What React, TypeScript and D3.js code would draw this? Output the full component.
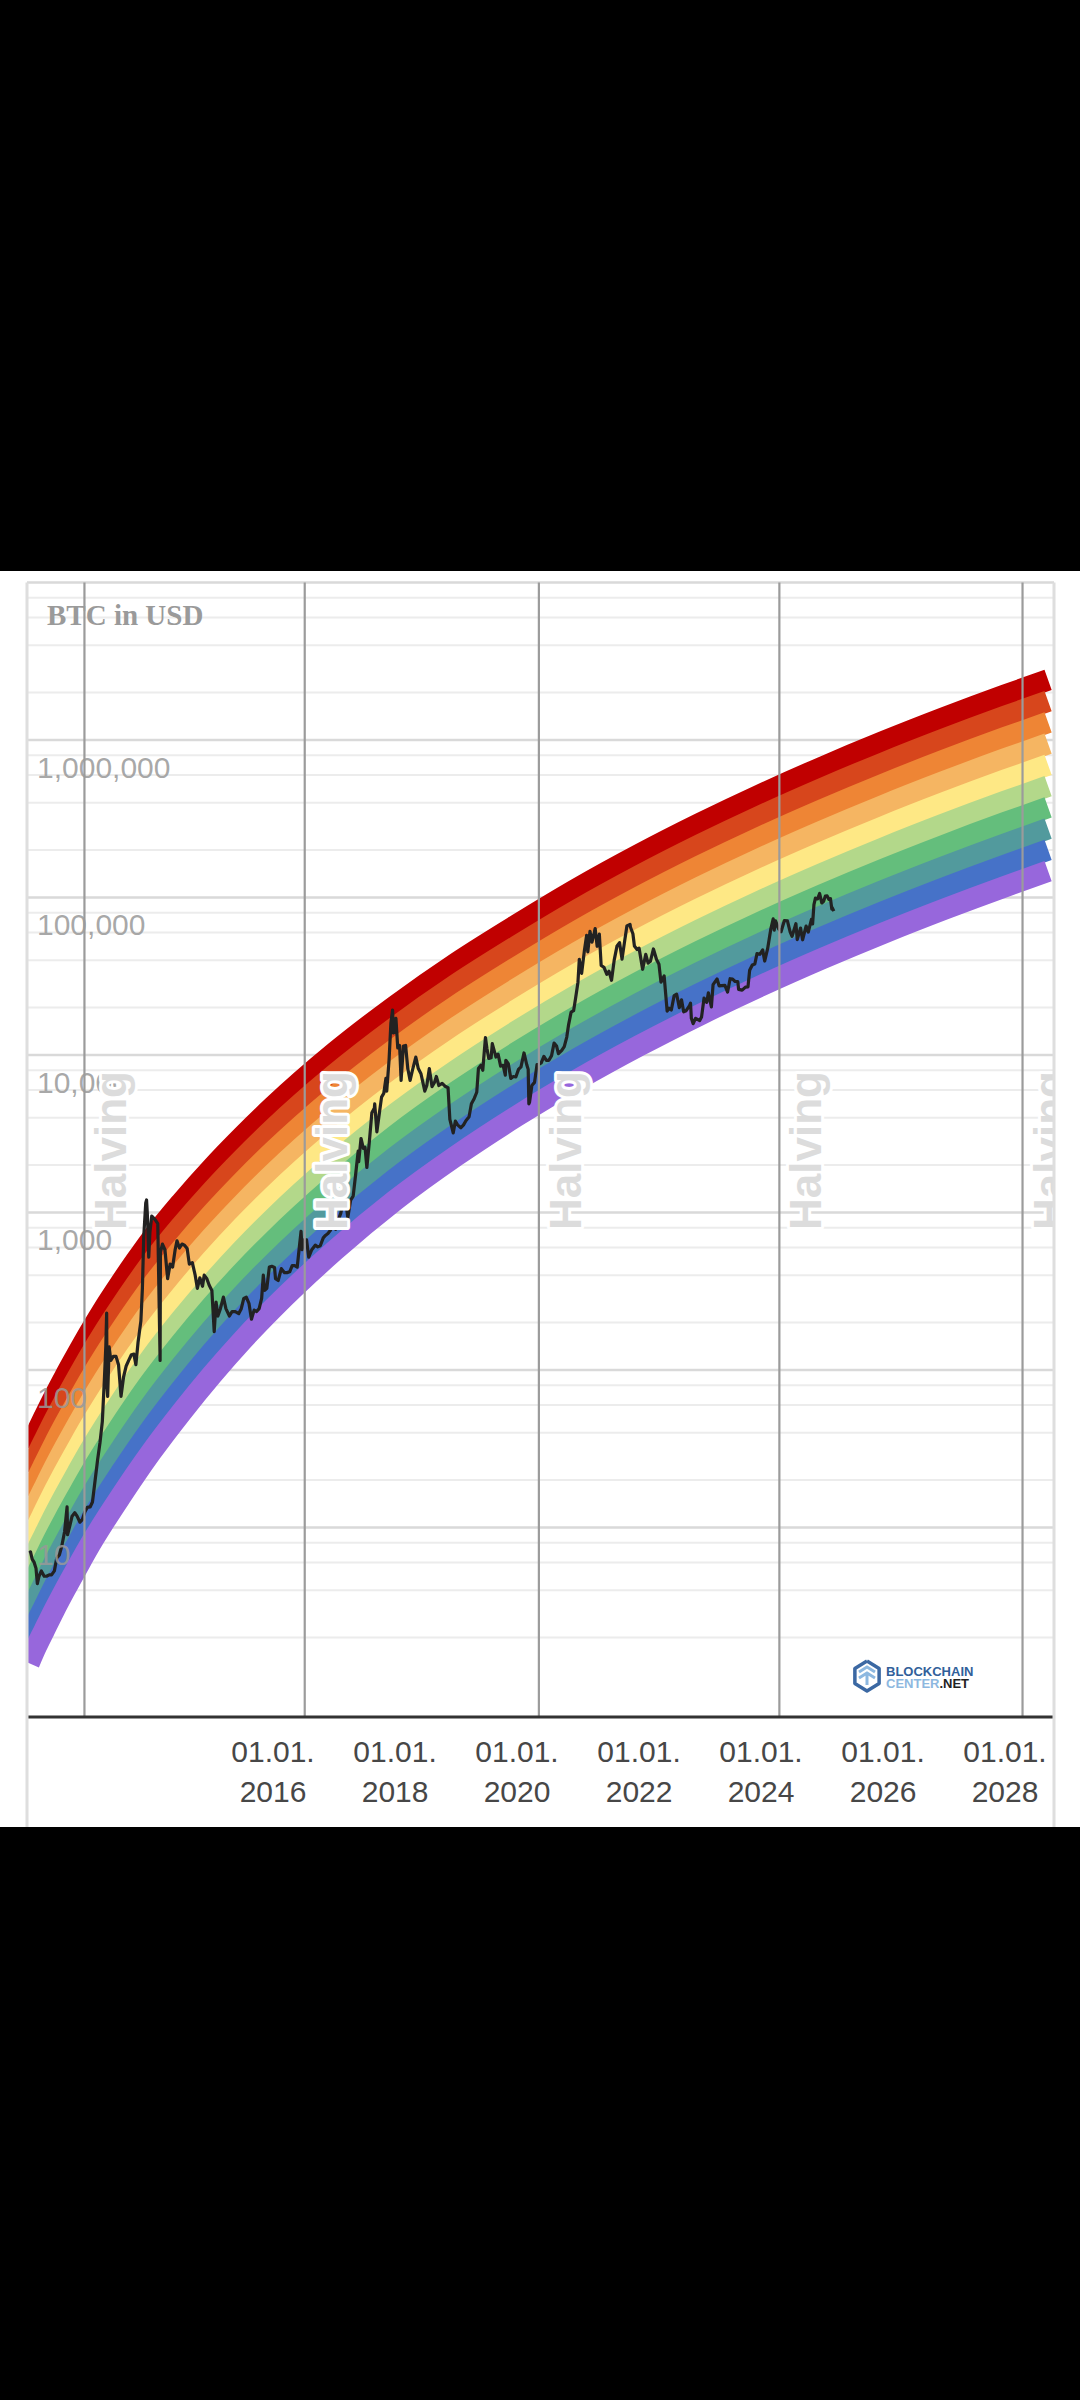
import { useEffect, useRef } from "react";
import * as d3 from "d3";

const WIDTH = 1080;
const HEIGHT = 2400;

// centre lines of the lowest (purple) and highest (dark red) rainbow bands
const rainbowDates = [
  "2012-01-01", "2012-02-15", "2012-04-01", "2012-06-01", "2012-08-01", "2012-10-15",
  "2013-01-01", "2013-04-01", "2013-07-01", "2013-10-01", "2014-01-01", "2014-07-01",
  "2015-01-01", "2015-07-01", "2016-01-01", "2017-01-01", "2018-01-01", "2019-01-01",
  "2020-01-01", "2021-01-01", "2022-01-01", "2023-01-01", "2024-01-01", "2025-01-01",
  "2026-01-01", "2027-01-01", "2028-01-01", "2028-09-15",
];
const rainbowBase = [
  1.375, 1.765, 2.22, 3.0, 3.98, 5.55,
  7.78, 11.1, 15.6, 21.8, 30.0, 53.7,
  93.2, 154, 246, 569, 1195, 2283,
  4097, 7000, 11430, 18010, 27510, 40910,
  59340, 84250, 117400, 146800,
];
const rainbowTop = [
  31.6, 40.0, 50.4, 68.0, 90.2, 125.6,
  175.4, 252.3, 354.5, 492, 673, 1160,
  1925, 3045, 4715, 10315, 20525, 38316,
  67215, 114842, 187521, 295472, 451329, 671170,
  973532, 1382206, 1926064, 2408401,
];
// purple -> dark red
const bandColors = [
  "#9767dc", "#4672c8", "#529a9d", "#64be7c", "#b3d88a",
  "#fee885", "#f5b562", "#ee8535", "#d7461c", "#c00000",
];

const halvingDates = ["2012-11-28", "2016-07-09", "2020-05-11", "2024-04-20", "2028-04-15"];
const xTickYears = [2016, 2018, 2020, 2022, 2024, 2026, 2028];
const yLabelValues = [10, 100, 1000, 10000, 100000, 1000000];
const majorGrid = [10, 100, 1000, 10000, 100000, 1000000, 10000000];
const minorGrid = [
  2, 4, 6, 8, 20, 40, 60, 80, 200, 400, 600, 800, 2000, 4000, 6000, 8000,
  20000, 40000, 60000, 80000, 200000, 400000, 600000, 800000,
  2000000, 4000000, 6000000, 8000000,
];

const btcPrice: [string, number][] = [
  ["2012-01-01", 6.9], ["2012-01-10", 7.0], ["2012-01-20", 6.3], ["2012-02-01", 6.0],
  ["2012-02-12", 5.5], ["2012-02-20", 4.4], ["2012-03-01", 4.9], ["2012-03-15", 5.3],
  ["2012-04-01", 4.9], ["2012-04-15", 4.9], ["2012-05-01", 5.0], ["2012-05-15", 5.0],
  ["2012-06-01", 5.3], ["2012-06-15", 6.4], ["2012-07-01", 6.7], ["2012-07-15", 7.6],
  ["2012-08-01", 9.4], ["2012-08-16", 13.5], ["2012-08-19", 9.0], ["2012-09-01", 10.2],
  ["2012-09-15", 11.8], ["2012-10-01", 12.4], ["2012-10-15", 11.8], ["2012-11-01", 10.8],
  ["2012-11-15", 11.2], ["2012-12-01", 12.6], ["2012-12-15", 13.4],
  ["2013-01-01", 13.5], ["2013-01-15", 14.5], ["2013-02-01", 20.4], ["2013-02-15", 27],
  ["2013-03-01", 34.5], ["2013-03-15", 47], ["2013-03-28", 90], ["2013-04-05", 142],
  ["2013-04-10", 230], ["2013-04-12", 80], ["2013-04-16", 68], ["2013-04-25", 140],
  ["2013-05-05", 115], ["2013-05-20", 122], ["2013-06-05", 122], ["2013-06-20", 108],
  ["2013-07-05", 68], ["2013-07-20", 90], ["2013-08-05", 106], ["2013-08-20", 115],
  ["2013-09-05", 125], ["2013-09-20", 126], ["2013-10-02", 108], ["2013-10-15", 150],
  ["2013-11-01", 205], ["2013-11-10", 330], ["2013-11-18", 700], ["2013-11-30", 1150],
  ["2013-12-05", 1200], ["2013-12-10", 960], ["2013-12-18", 520], ["2013-12-25", 750],
  ["2014-01-05", 950], ["2014-01-25", 900], ["2014-02-10", 850], ["2014-02-24", 115],
  ["2014-02-26", 560], ["2014-03-10", 630], ["2014-03-25", 580], ["2014-04-10", 380],
  ["2014-04-25", 470], ["2014-05-10", 450], ["2014-05-25", 580], ["2014-06-05", 660],
  ["2014-06-20", 595], ["2014-07-05", 630], ["2014-07-20", 620], ["2014-08-05", 590],
  ["2014-08-18", 470], ["2014-09-05", 480], ["2014-09-22", 400], ["2014-10-05", 330],
  ["2014-10-20", 385], ["2014-11-05", 340], ["2014-11-15", 400], ["2014-12-01", 380],
  ["2014-12-15", 345], ["2014-12-31", 320],
  ["2015-01-14", 175], ["2015-01-25", 270], ["2015-02-05", 220], ["2015-02-20", 245],
  ["2015-03-10", 290], ["2015-03-25", 245], ["2015-04-15", 220], ["2015-05-01", 235],
  ["2015-05-20", 235], ["2015-06-10", 228], ["2015-06-25", 245], ["2015-07-10", 285],
  ["2015-07-25", 290], ["2015-08-10", 265], ["2015-08-25", 210], ["2015-09-10", 240],
  ["2015-09-25", 235], ["2015-10-10", 245], ["2015-10-25", 285], ["2015-11-04", 400],
  ["2015-11-12", 320], ["2015-11-25", 330], ["2015-12-10", 450], ["2015-12-25", 455],
  ["2016-01-10", 448], ["2016-01-16", 380], ["2016-02-01", 370], ["2016-02-20", 440],
  ["2016-03-10", 415], ["2016-03-25", 415], ["2016-04-10", 420], ["2016-04-25", 460],
  ["2016-05-10", 460], ["2016-05-25", 450], ["2016-06-05", 580], ["2016-06-17", 760],
  ["2016-06-23", 580], ["2016-07-05", 670], ["2016-07-20", 670], ["2016-08-02", 520],
  ["2016-08-20", 580], ["2016-09-10", 620], ["2016-09-25", 605], ["2016-10-10", 615],
  ["2016-10-28", 690], ["2016-11-10", 715], ["2016-11-25", 735], ["2016-12-10", 770],
  ["2016-12-25", 890],
  ["2017-01-04", 1150], ["2017-01-11", 780], ["2017-01-25", 890], ["2017-02-10", 990],
  ["2017-02-25", 1180], ["2017-03-10", 1200], ["2017-03-24", 930], ["2017-04-10", 1200],
  ["2017-04-25", 1270], ["2017-05-10", 1750], ["2017-05-25", 2450], ["2017-05-28", 2100],
  ["2017-06-11", 2950], ["2017-06-25", 2550], ["2017-07-05", 2600], ["2017-07-16", 1930],
  ["2017-07-30", 2750], ["2017-08-15", 4300], ["2017-08-30", 4600], ["2017-09-01", 4900],
  ["2017-09-14", 3250], ["2017-09-28", 4200], ["2017-10-12", 5400], ["2017-10-25", 5700],
  ["2017-11-07", 7100], ["2017-11-12", 5900], ["2017-11-26", 9300], ["2017-12-07", 16000],
  ["2017-12-17", 19300], ["2017-12-22", 13800], ["2017-12-31", 14000],
  ["2018-01-06", 17100], ["2018-01-17", 11100], ["2018-01-28", 11500], ["2018-02-06", 6900],
  ["2018-02-20", 11400], ["2018-03-05", 11500], ["2018-03-18", 8200], ["2018-04-01", 6900],
  ["2018-04-15", 8000], ["2018-05-05", 9700], ["2018-05-20", 8200], ["2018-06-05", 7600],
  ["2018-06-28", 5900], ["2018-07-10", 6400], ["2018-07-25", 8200], ["2018-08-10", 6300],
  ["2018-08-25", 6700], ["2018-09-05", 7300], ["2018-09-20", 6400], ["2018-10-10", 6600],
  ["2018-10-30", 6300], ["2018-11-14", 6200], ["2018-11-25", 3900], ["2018-12-15", 3200],
  ["2018-12-28", 3800],
  ["2019-01-10", 3600], ["2019-01-30", 3450], ["2019-02-15", 3600], ["2019-03-01", 3820],
  ["2019-03-20", 4050], ["2019-04-03", 4900], ["2019-04-20", 5300], ["2019-05-05", 5800],
  ["2019-05-15", 8200], ["2019-05-30", 8600], ["2019-06-10", 8000], ["2019-06-26", 12900],
  ["2019-07-05", 11000], ["2019-07-16", 9500], ["2019-07-30", 9600], ["2019-08-06", 11800],
  ["2019-08-28", 9700], ["2019-09-10", 10100], ["2019-09-25", 8500], ["2019-10-10", 8600],
  ["2019-10-23", 7450], ["2019-10-26", 9250], ["2019-11-10", 8800], ["2019-11-25", 7100],
  ["2019-12-10", 7300], ["2019-12-25", 7250],
  ["2020-01-10", 8100], ["2020-01-25", 8400], ["2020-02-12", 10300], ["2020-02-28", 8700],
  ["2020-03-08", 8100], ["2020-03-12", 4900], ["2020-03-16", 5000], ["2020-03-30", 6400],
  ["2020-04-15", 6700], ["2020-04-30", 8700], ["2020-05-10", 8700], ["2020-05-25", 8900],
  ["2020-06-10", 9800], ["2020-06-25", 9250], ["2020-07-10", 9250], ["2020-07-26", 9900],
  ["2020-08-10", 11900], ["2020-08-25", 11400], ["2020-09-05", 10200], ["2020-09-25", 10700],
  ["2020-10-10", 11300], ["2020-10-25", 13000], ["2020-11-05", 15600], ["2020-11-20", 18700],
  ["2020-12-05", 19100], ["2020-12-17", 23000], ["2020-12-31", 29000],
  ["2021-01-08", 40500], ["2021-01-22", 33000], ["2021-02-08", 46500], ["2021-02-21", 57500],
  ["2021-02-28", 45200], ["2021-03-13", 61000], ["2021-03-25", 52000], ["2021-04-13", 63500],
  ["2021-04-25", 49000], ["2021-05-08", 58500], ["2021-05-19", 37000], ["2021-06-05", 36000],
  ["2021-06-22", 32500], ["2021-07-05", 34000], ["2021-07-20", 29800], ["2021-08-05", 40000],
  ["2021-08-22", 49300], ["2021-09-06", 51700], ["2021-09-21", 40600], ["2021-10-05", 51500],
  ["2021-10-20", 66000], ["2021-11-08", 67500], ["2021-11-10", 64900], ["2021-11-25", 58900],
  ["2021-12-04", 49200], ["2021-12-20", 46700],
  ["2022-01-01", 47700], ["2022-01-22", 35000], ["2022-02-10", 43500], ["2022-02-24", 38300],
  ["2022-03-10", 39400], ["2022-03-28", 47100], ["2022-04-15", 40500], ["2022-04-30", 37700],
  ["2022-05-12", 29000], ["2022-05-31", 31800], ["2022-06-18", 19000], ["2022-06-30", 19800],
  ["2022-07-13", 19300], ["2022-07-30", 23800], ["2022-08-14", 24300], ["2022-08-30", 20000],
  ["2022-09-12", 22400], ["2022-09-25", 18800], ["2022-10-10", 19100], ["2022-10-30", 20600],
  ["2022-11-05", 21300], ["2022-11-10", 17100], ["2022-11-21", 15800], ["2022-12-05", 17100],
  ["2022-12-30", 16550],
  ["2023-01-10", 17400], ["2023-01-25", 23000], ["2023-02-10", 21600], ["2023-02-20", 24800],
  ["2023-03-10", 20200], ["2023-03-20", 28000], ["2023-04-13", 30400], ["2023-04-25", 27500],
  ["2023-05-10", 27600], ["2023-05-30", 27700], ["2023-06-15", 25100], ["2023-06-30", 30500],
  ["2023-07-15", 30300], ["2023-07-30", 29300], ["2023-08-15", 29200], ["2023-08-20", 26100],
  ["2023-09-10", 25800], ["2023-09-30", 27000], ["2023-10-15", 27100], ["2023-10-25", 34500],
  ["2023-11-10", 37300], ["2023-11-25", 37800], ["2023-12-08", 44000], ["2023-12-25", 43600],
  ["2024-01-11", 46500], ["2024-01-23", 39500], ["2024-02-10", 47500], ["2024-02-28", 62500],
  ["2024-03-14", 73100], ["2024-03-20", 62000], ["2024-03-28", 71000], ["2024-04-15", 63400],
  ["2024-04-30", 60600], ["2024-05-20", 71400], ["2024-06-07", 71000], ["2024-06-24", 60300],
  ["2024-07-05", 56700], ["2024-07-28", 68200], ["2024-08-05", 54000], ["2024-08-25", 64000],
  ["2024-09-06", 53900], ["2024-09-27", 65800], ["2024-10-10", 60300], ["2024-10-29", 72700],
  ["2024-11-05", 68000], ["2024-11-13", 90000], ["2024-11-22", 99000], ["2024-12-05", 98000],
  ["2024-12-17", 106000], ["2024-12-30", 92300],
  ["2025-01-10", 94500], ["2025-01-20", 102000], ["2025-01-31", 102400], ["2025-02-10", 97400],
  ["2025-02-20", 98300], ["2025-02-28", 84300], ["2025-03-03", 86000], ["2025-03-12", 82000],
];

const SANS = "'Liberation Sans', Arial, Helvetica, sans-serif";
const SERIF = "'Liberation Serif', 'Times New Roman', serif";

export default function App() {
  const svgRef = useRef<SVGSVGElement>(null);

  useEffect(() => {
    if (!svgRef.current) return;
    const svg = d3.select(svgRef.current);
    svg.selectAll("*").remove();

    const panel = { top: 571, bottom: 1827 };
    const plot = { left: 27, right: 1054, top: 582.5, bottom: 1717 };
    const parse = d3.utcParse("%Y-%m-%d");

    const x = d3
      .scaleUtc()
      .domain([parse("2012-01-01")!, parse("2028-01-01")!])
      .range([29, 1005]);
    const y = d3.scaleLog().domain([0.626, 1e7]).range([plot.bottom, plot.top]);

    // page background: black with the white chart card
    svg.append("rect").attr("width", WIDTH).attr("height", HEIGHT).attr("fill", "#000");
    svg
      .append("rect")
      .attr("x", 0)
      .attr("y", panel.top)
      .attr("width", WIDTH)
      .attr("height", panel.bottom - panel.top)
      .attr("fill", "#fff");

    const defs = svg.append("defs");
    defs
      .append("clipPath")
      .attr("id", "plot-clip")
      .append("rect")
      .attr("x", plot.left)
      .attr("y", plot.top)
      .attr("width", plot.right - plot.left)
      .attr("height", plot.bottom - plot.top);

    // grid
    const grid = svg.append("g");
    grid
      .selectAll("line.minor")
      .data(minorGrid)
      .join("line")
      .attr("class", "minor")
      .attr("x1", plot.left)
      .attr("x2", plot.right)
      .attr("y1", (d) => y(d))
      .attr("y2", (d) => y(d))
      .attr("stroke", "#ececec")
      .attr("stroke-width", 2);
    grid
      .selectAll("line.major")
      .data(majorGrid)
      .join("line")
      .attr("class", "major")
      .attr("x1", plot.left)
      .attr("x2", plot.right)
      .attr("y1", (d) => y(d))
      .attr("y2", (d) => y(d))
      .attr("stroke", "#d9d9d9")
      .attr("stroke-width", 2.5);

    // rainbow bands, drawn as thick lines from the top band down
    const plotArea = svg.append("g").attr("clip-path", "url(#plot-clip)");
    const bandLine = d3
      .line<[Date, number]>()
      .x((d) => x(d[0]))
      .y((d) => y(d[1]))
      .curve(d3.curveMonotoneX);

    const nBands = bandColors.length;
    for (let i = nBands - 1; i >= 0; i--) {
      const t = i / (nBands - 1);
      const pts: [Date, number][] = rainbowDates.map((d, j) => [
        parse(d)!,
        rainbowBase[j] * Math.pow(rainbowTop[j] / rainbowBase[j], t),
      ]);
      plotArea
        .append("path")
        .datum(pts)
        .attr("fill", "none")
        .attr("stroke", bandColors[i])
        .attr("stroke-width", 21.5)
        .attr("stroke-linecap", "butt")
        .attr("stroke-linejoin", "round")
        .attr("d", bandLine);
    }

    // BTC price
    const priceLine = d3
      .line<[string, number]>()
      .x((d) => x(parse(d[0])!))
      .y((d) => y(d[1]));
    plotArea
      .append("path")
      .datum(btcPrice)
      .attr("fill", "none")
      .attr("stroke", "#222")
      .attr("stroke-width", 3.2)
      .attr("stroke-linejoin", "round")
      .attr("d", priceLine);

    // y labels
    svg
      .append("g")
      .selectAll("text")
      .data(yLabelValues)
      .join("text")
      .attr("x", 37)
      .attr("y", (d) => y(d) + 38)
      .attr("font-family", SANS)
      .attr("font-size", 30)
      .attr("fill", "#999")
      .attr("fill-opacity", 0.85)
      .text((d) => d3.format(",")(d));

    // title
    svg
      .append("text")
      .attr("x", 47)
      .attr("y", 625)
      .attr("font-family", SERIF)
      .attr("font-weight", "bold")
      .attr("font-size", 29)
      .attr("fill", "#9a9a9a")
      .text("BTC in USD");

    // halving lines + labels
    const halvings = halvingDates.map((d) => x(parse(d)!));
    svg
      .append("g")
      .selectAll("line")
      .data(halvings)
      .join("line")
      .attr("x1", (d) => d)
      .attr("x2", (d) => d)
      .attr("y1", plot.top)
      .attr("y2", plot.bottom)
      .attr("stroke", "#9b9b9b")
      .attr("stroke-width", 2.2);

    const halvingText = svg.append("g").attr("clip-path", "url(#plot-clip)");
    halvingText
      .selectAll("text")
      .data(halvings)
      .join("text")
      .attr("transform", (d) => `translate(${d + 42},1230) rotate(-90)`)
      .attr("font-family", SANS)
      .attr("font-weight", "bold")
      .attr("font-size", 44)
      .attr("fill", "#dcdcdc")
      .attr("stroke", "#fff")
      .attr("stroke-width", 6)
      .attr("stroke-linejoin", "round")
      .attr("paint-order", "stroke")
      .text("Halving");

    // x axis
    svg
      .append("line")
      .attr("x1", plot.left)
      .attr("x2", plot.right)
      .attr("y1", plot.bottom)
      .attr("y2", plot.bottom)
      .attr("stroke", "#333")
      .attr("stroke-width", 3);

    const xLabels = svg
      .append("g")
      .selectAll("text")
      .data(xTickYears)
      .join("text")
      .attr("text-anchor", "middle")
      .attr("font-family", SANS)
      .attr("font-size", 30)
      .attr("fill", "#474747");
    xLabels
      .append("tspan")
      .attr("x", (d) => x(parse(`${d}-01-01`)!))
      .attr("y", 1762)
      .text("01.01.");
    xLabels
      .append("tspan")
      .attr("x", (d) => x(parse(`${d}-01-01`)!))
      .attr("y", 1802)
      .text((d) => String(d));

    // card borders
    svg
      .append("g")
      .selectAll("line")
      .data([plot.left, plot.right])
      .join("line")
      .attr("x1", (d) => d)
      .attr("x2", (d) => d)
      .attr("y1", plot.top)
      .attr("y2", panel.bottom)
      .attr("stroke", "#dedede")
      .attr("stroke-width", 3);

    // watermark
    const logo = svg.append("g").attr("transform", "translate(867,1676)");
    const hex = d3.range(6).map((k) => {
      const a = (Math.PI / 3) * k - Math.PI / 2;
      return [Math.cos(a) * 14, Math.sin(a) * 15] as [number, number];
    });
    logo
      .append("path")
      .attr("d", d3.line()([...hex, hex[0]]))
      .attr("fill", "none")
      .attr("stroke", "#3b68a3")
      .attr("stroke-width", 3.5)
      .attr("stroke-linejoin", "round");
    logo
      .append("path")
      .attr("d", "M-8,-4 L0,-9 L8,-4 M-8,2 L0,-3 L8,2 M0,-3 L0,9")
      .attr("fill", "none")
      .attr("stroke", "#8db8e0")
      .attr("stroke-width", 3);
    const wm = svg
      .append("text")
      .attr("font-family", SANS)
      .attr("font-weight", "bold")
      .attr("font-size", 13);
    wm.append("tspan").attr("x", 886).attr("y", 1676).attr("fill", "#31609a").text("BLOCKCHAIN");
    wm.append("tspan").attr("x", 886).attr("y", 1688).attr("fill", "#8db8e0").text("CENTER");
    wm.append("tspan").attr("fill", "#222").text(".NET");
  }, []);

  return (
    <div
      style={{
        position: "absolute",
        left: 0,
        top: 0,
        width: WIDTH,
        height: HEIGHT,
        background: "#000",
      }}
    >
      <svg ref={svgRef} width={WIDTH} height={HEIGHT} style={{ display: "block" }} />
    </div>
  );
}
